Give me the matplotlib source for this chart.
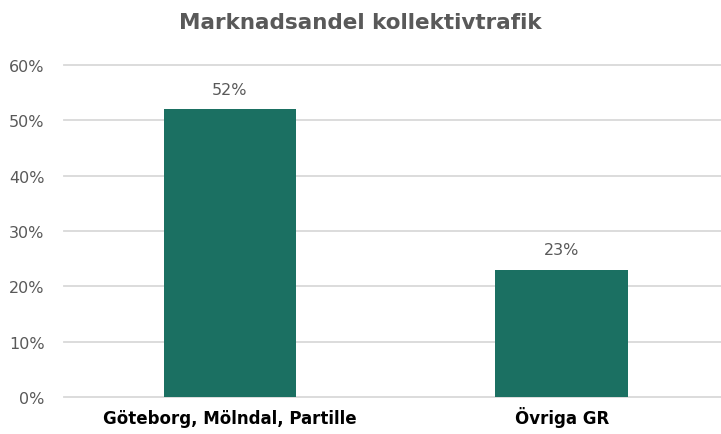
import matplotlib.pyplot as plt
from matplotlib.ticker import PercentFormatter

# data
categories = ["Göteborg, Mölndal, Partille", "Övriga GR"]
shares = [52, 23]
yticks = [0, 10, 20, 30, 40, 50, 60]

bar_color = "#1B7062"
gray = "#595959"

fig = plt.figure(figsize=(7.21, 4.35), dpi=100)
ax = fig.add_axes([64 / 721, 1 - 398 / 435, 1 - 64 / 721, 332 / 435])

x = range(len(categories))
bars = ax.bar(x, shares, width=0.4, color=bar_color, zorder=3)

for b, v in zip(bars, shares):
    ax.annotate(f"{v}%", (b.get_x() + b.get_width() / 2, v),
                xytext=(0, 9), textcoords="offset points",
                ha="center", va="bottom", fontsize=11.5, color=gray)

ax.set_xlim(-0.5, 1.48)
ax.set_ylim(0, 60)
ax.set_yticks(yticks)
ax.yaxis.set_major_formatter(PercentFormatter(decimals=0))
ax.set_xticks(list(x))
ax.set_xticklabels(categories, fontsize=12, fontweight="bold", color="black")
for lbl in ax.get_xticklabels():
    lbl.set_va("baseline")
ax.tick_params(axis="y", length=0, labelsize=11.5, labelcolor=gray, pad=14)
ax.tick_params(axis="x", length=0, pad=19)

ax.grid(axis="y", color="#D9D9D9", linewidth=1.3, zorder=0)
for gl in ax.get_ygridlines():
    gl.set_clip_on(False)
for s in ax.spines.values():
    s.set_visible(False)

fig.suptitle("Marknadsandel kollektivtrafik", x=0.5, y=0.97,
             fontsize=15.5, fontweight="bold", color=gray)

fig.savefig("out.png", dpi=100)
